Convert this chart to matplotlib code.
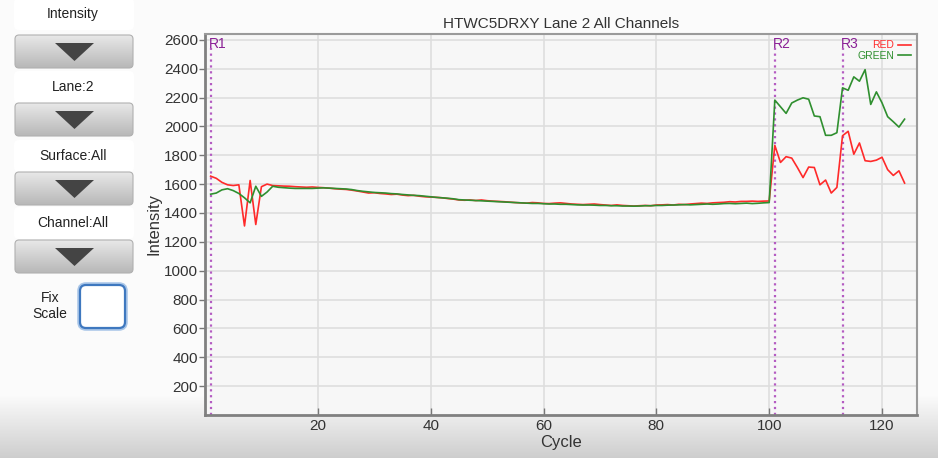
import numpy as np
import matplotlib.pyplot as plt
from matplotlib.patches import FancyBboxPatch, Polygon

plt.rcParams['font.family'] = ['Liberation Sans', 'DejaVu Sans']

# data
cycles = list(range(1, 125))
red = [1655, 1640, 1612, 1595, 1590, 1595, 1310, 1625, 1320, 1582,
       1600, 1590, 1588, 1586, 1585, 1582, 1580, 1578, 1580, 1577,
       1575, 1572, 1568, 1565, 1563, 1558, 1552, 1545, 1538, 1540,
       1535, 1532, 1528, 1530, 1524, 1520, 1522, 1516, 1512, 1510,
       1508, 1505, 1500, 1496, 1490, 1488, 1490, 1486, 1490, 1485,
       1482, 1480, 1478, 1475, 1472, 1470, 1468, 1472, 1470, 1466,
       1465, 1468, 1470, 1466, 1462, 1460, 1458, 1460, 1462, 1458,
       1455, 1452, 1456, 1452, 1450, 1448, 1450, 1452, 1450, 1455,
       1456, 1458, 1455, 1460, 1458, 1462, 1465, 1468, 1466, 1470,
       1472, 1474, 1478, 1476, 1480, 1480, 1482, 1480, 1482, 1483,
       1868, 1750, 1790, 1780, 1715, 1645, 1718, 1715, 1595, 1628,
       1538, 1577, 1935, 1966, 1807, 1885, 1762, 1757, 1766, 1786,
       1700, 1660, 1692, 1607]
green = [1530, 1538, 1560, 1568, 1555, 1535, 1505, 1470, 1585, 1515,
         1545, 1585, 1578, 1575, 1572, 1570, 1570, 1570, 1570, 1572,
         1574, 1572, 1570, 1568, 1566, 1562, 1555, 1550, 1546, 1542,
         1540, 1538, 1534, 1532, 1528, 1525, 1522, 1520, 1516, 1512,
         1508, 1505, 1502, 1498, 1492, 1490, 1488, 1486, 1484, 1482,
         1480, 1478, 1476, 1474, 1472, 1470, 1468, 1466, 1466, 1464,
         1462, 1462, 1460, 1460, 1458, 1456, 1455, 1455, 1454, 1452,
         1452, 1450, 1450, 1448, 1448, 1447, 1448, 1450, 1450, 1452,
         1452, 1454, 1455, 1456, 1458, 1456, 1458, 1460, 1462, 1460,
         1462, 1465, 1466, 1464, 1466, 1468, 1465, 1467, 1470, 1472,
         2182, 2136, 2090, 2162, 2182, 2198, 2188, 2072, 2067, 1938,
         1938, 1956, 2267, 2250, 2343, 2313, 2393, 2152, 2239, 2163,
         2067, 2032, 1995, 2050]
read_starts = [1, 101, 113]
read_names = ['R1', 'R2', 'R3']
menu_labels = ['Intensity', 'Lane:2', 'Surface:All', 'Channel:All']

fig = plt.figure(figsize=(9.38, 4.58), dpi=100)

# background in pixel coords (white top, grey band at the bottom)
bg = fig.add_axes([0, 0, 1, 1], zorder=-10)
bg.set_xlim(0, 938)
bg.set_ylim(458, 0)
bg.axis('off')
shade = np.ones((458, 1))
shade[395:, 0] = np.linspace(1.0, 0.82, 63)
bg.imshow(np.dstack([shade * 0.985] * 3), extent=(0, 938, 458, 0), aspect='auto')

# left control panel
label_y = [14, 87, 156, 223]
button_top = [35, 103, 172, 240]
for lab, ly, bt in zip(menu_labels, label_y, button_top):
    panel = FancyBboxPatch((14, ly - 16), 120, 32, boxstyle='round,pad=0,rounding_size=5',
                           fc='white', ec='none')
    bg.add_patch(panel)
    bg.text(73, ly, lab, ha='center', va='center', fontsize=10, color='#222222')
    btn = FancyBboxPatch((15, bt), 118, 33, boxstyle='round,pad=0,rounding_size=4',
                         fc='none', ec='#b0b0b0', lw=0.8)
    bg.add_patch(btn)
    grad = np.linspace(0.91, 0.72, 40).reshape(-1, 1)
    im = bg.imshow(np.dstack([grad] * 3), extent=(15, 133, bt + 33, bt), aspect='auto')
    im.set_clip_path(btn)
    bg.add_patch(Polygon([[55, bt + 8], [94, bt + 8], [74.5, bt + 26]], closed=True,
                         fc='#444444', ec='none'))

bg.text(50, 306, 'Fix\nScale', ha='center', va='center', fontsize=10,
        color='#222222', linespacing=1.1)
bg.add_patch(FancyBboxPatch((80, 285), 45, 43, boxstyle='round,pad=0,rounding_size=6',
                            fc='white', ec='#a9c6e8', lw=4))
bg.add_patch(FancyBboxPatch((80, 285), 45, 43, boxstyle='round,pad=0,rounding_size=6',
                            fc='white', ec='#3f78bf', lw=1.6))

# main chart
ax = fig.add_axes([205 / 938, 1 - 415 / 458, 712 / 938, 381 / 458])
ax.set_facecolor('#f7f7f7')
ax.plot(cycles, red, color='#ff2a2a', lw=1.2, label='RED', zorder=3)
ax.plot(cycles, green, color='#2f8f2f', lw=1.2, label='GREEN', zorder=3)

for c, name in zip(read_starts, read_names):
    ax.plot([c, c], [0, 2540], color='#b45cc2', lw=1.6, ls=':', zorder=2)
    ax.text(c - 0.3, 2620, name, color='#8a1f95', fontsize=10, ha='left', va='top')

ax.set_xlim(0, 126.2)
ax.set_ylim(0, 2640)
ax.set_xticks([20, 40, 60, 80, 100, 120])
ax.set_yticks(range(200, 2601, 200))
ax.grid(True, color='#dedede', lw=1.2)
ax.set_axisbelow(True)
ax.tick_params(axis='x', direction='in', length=5, width=1, color='#777777',
               labelsize=11, labelcolor='#333333', pad=3)
ax.tick_params(axis='y', direction='out', length=4, width=1, color='#777777',
               labelsize=11, labelcolor='#333333', pad=1)
for side in ['left', 'bottom']:
    ax.spines[side].set_color('#808080')
    ax.spines[side].set_linewidth(2)
for side in ['top', 'right']:
    ax.spines[side].set_color('#9a9a9a')
    ax.spines[side].set_linewidth(1.5)

ax.set_title('HTWC5DRXY Lane 2 All Channels', fontsize=11, color='#333333', pad=4)
ax.set_xlabel('Cycle', fontsize=12, color='#333333', labelpad=1)
ax.set_ylabel('Intensity', fontsize=12, color='#333333', labelpad=2)

leg = ax.legend(loc='upper right', markerfirst=False, frameon=False, fontsize=7.5,
                labelcolor='linecolor', handlelength=1.2, handletextpad=0.4,
                labelspacing=0.05, borderaxespad=0.2)

fig.savefig('out.png', dpi=100)
